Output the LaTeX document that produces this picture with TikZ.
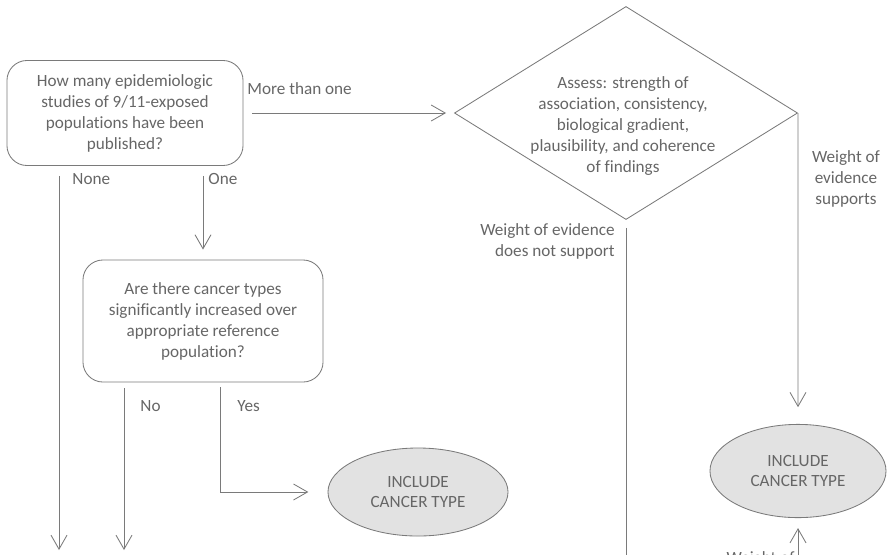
\documentclass[tikz,border=0pt]{standalone}
\usepackage{fontspec}
\setmainfont{Carlito}[Ligatures=NoCommon]
\usetikzlibrary{shapes.geometric,arrows.meta}

\definecolor{inkgray}{HTML}{7A7A7A}
\definecolor{txtgray}{HTML}{666666}
\definecolor{ovalgray}{HTML}{E2E2E2}

\tikzset{
  question/.style={draw, rounded corners=0.5cm, align=center, inner sep=0pt},
  include/.style={ellipse, draw, fill=ovalgray, align=center, minimum width=4.5cm, minimum height=2.2cm, inner sep=0pt},
  lbl/.style={inner sep=0pt},
  arr/.style={-{Straight Barb[length=3.5mm,width=4mm]}}
}

\begin{document}
\begin{tikzpicture}[x=0.025cm, y=-0.025cm, line width=0.6pt, color=inkgray, text=txtgray, font=\fontsize{12.2}{14.9}\selectfont]

% page frame
\useasboundingbox (0,0) rectangle (887,554);
\clip (0,0) rectangle (887,554);

% question boxes
\node[question, minimum width=5.9cm, minimum height=2.625cm] (studies) at (125,113) {How many epidemiologic\\studies of 9/11-exposed\\populations have been\\published?};
\node[question, minimum width=6cm, minimum height=3.05cm] (increase) at (203,321) {Are there cancer types\\significantly increased over\\appropriate reference\\population?};

% assessment diamond
\node[diamond, draw, minimum width=8.575cm, minimum height=5.325cm, inner sep=0pt] (assess) at (626,113) {};
\node[align=center] (assesstext) at (623,126) {Assess: strength of\\association, consistency,\\biological gradient,\\plausibility, and coherence\\of findings};

% outcome ellipses
\node[include] (inclone) at (418,492) {INCLUDE\\CANCER TYPE};
\node[include, minimum width=4.4cm, minimum height=2.33cm] (incltwo) at (798,471) {INCLUDE\\CANCER TYPE};

% free ends
\coordinate (noneend) at (59,550);
\coordinate (noend) at (124,550);
\coordinate (notsupend) at (626,570);
\coordinate (supstart) at (798,570);

% connectors
\draw[arr, shorten <=0.225cm, shorten >=0.2cm] (studies) -- (assess);
\draw[arr, shorten <=0.25cm] (noneend |- studies.south) -- (noneend);
\draw[arr, shorten <=0.25cm, shorten >=0.25cm] (studies.south -| increase.north) -- (increase.north);
\draw[arr, shorten <=0.15cm] (noend |- increase.south) -- (noend);
\draw[arr, shorten <=0.12cm, shorten >=0.48cm] ([xshift=0.425cm]increase.south) |- (inclone);
\draw[arr, shorten >=0.42cm] (assess.east) -- (incltwo.north);
\draw[shorten <=0.2cm] (assess.south) -- (notsupend);
\draw[arr, shorten >=0.25cm] (supstart) -- (incltwo.south);

% branch labels
\node[lbl, anchor=base west] (morelbl) at (247,94) {More than one};
\node[lbl, anchor=base west] (nonelbl) at (72,184) {None};
\node[lbl, anchor=base west] (onelbl) at (208,184) {One};
\node[lbl, anchor=base west] (nolbl) at (140,411) {No};
\node[lbl, anchor=base west] (yeslbl) at (237,411) {Yes};
\node[lbl, align=right, anchor=north east] (notsuplbl) at (615,223) {Weight of evidence\\does not support};
\node[lbl, align=center, anchor=north] (suplbl) at (846,150) {Weight of\\evidence\\supports};
\node[lbl, anchor=base east] (weightlbl) at (795,563) {Weight of};

\end{tikzpicture}
\end{document}
